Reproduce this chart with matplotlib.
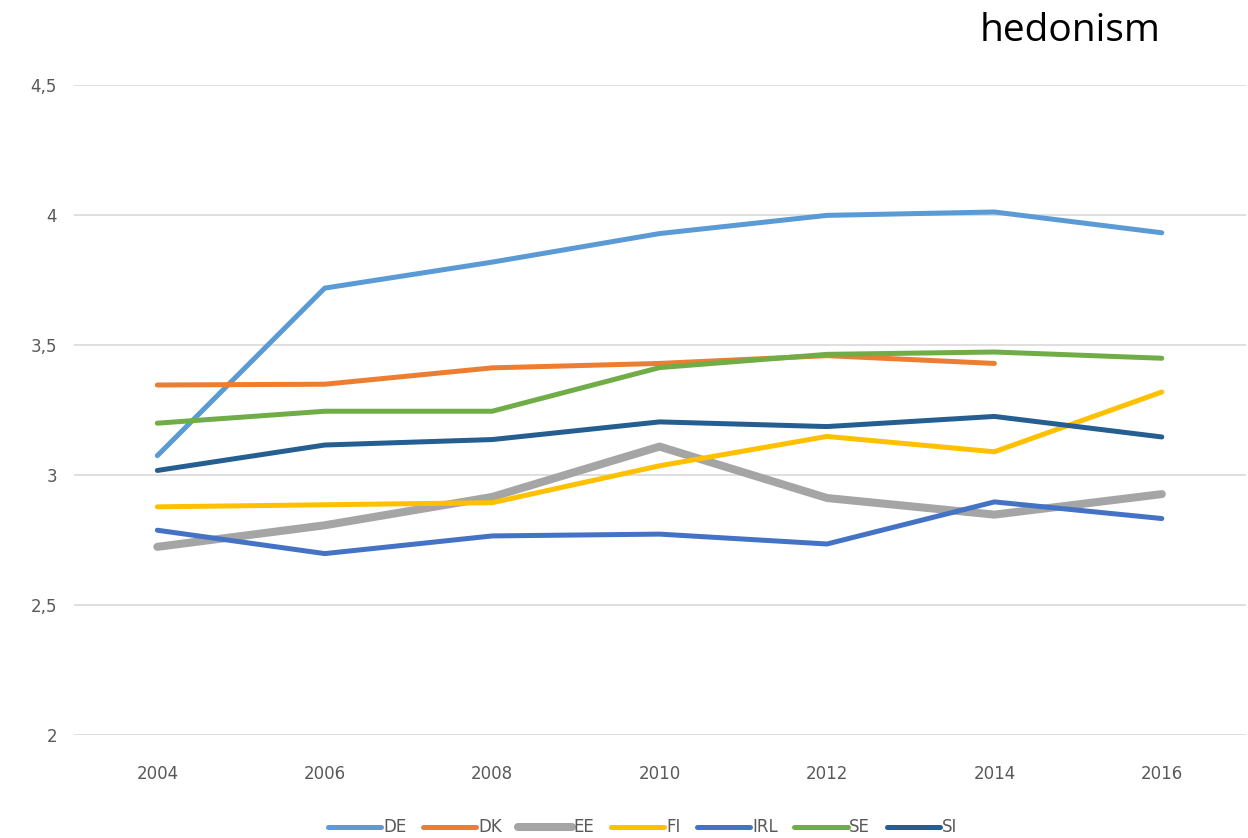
import matplotlib.pyplot as plt

years = ["2004", "2006", "2008", "2010", "2012", "2014", "2016"]

de = [3.075, 3.72, 3.82, 3.93, 4.00, 4.013, 3.933]
dk = [3.347, 3.35, 3.413, 3.43, 3.46, 3.43]
ee = [2.724, 2.807, 2.916, 3.11, 2.912, 2.848, 2.927]
fi = [2.878, 2.886, 2.894, 3.036, 3.149, 3.09, 3.32]
irl = [2.788, 2.698, 2.766, 2.773, 2.735, 2.897, 2.833]
se = [3.2, 3.246, 3.246, 3.414, 3.465, 3.474, 3.45]
si = [3.018, 3.116, 3.137, 3.205, 3.187, 3.226, 3.147]

series = [
    ("DE", de, "#5B9BD5", 3.6),
    ("DK", dk, "#ED7D31", 3.6),
    ("EE", ee, "#A5A5A5", 5.8),
    ("FI", fi, "#FFC000", 3.6),
    ("IRL", irl, "#4472C4", 3.6),
    ("SE", se, "#70AD47", 3.6),
    ("SI", si, "#255E91", 3.6),
]

fig = plt.figure(figsize=(12.48, 8.38), dpi=100)
ax = fig.add_axes([0.059, 0.123, 0.939, 0.775])

for name, vals, color, lw in series:
    ax.plot(range(len(vals)), vals, color=color, lw=lw, label=name,
            solid_capstyle="round", solid_joinstyle="round")

ax.set_xlim(-0.5, len(years) - 0.5)
ax.set_ylim(2, 4.5)
ax.set_xticks(range(len(years)))
ax.set_xticklabels(years)
ax.set_yticks([2, 2.5, 3, 3.5, 4, 4.5])
ax.set_yticklabels(["2", "2,5", "3", "3,5", "4", "4,5"])
ax.yaxis.grid(True, color="#D9D9D9", lw=1.2)
ax.set_axisbelow(True)
for s in ax.spines.values():
    s.set_visible(False)
ax.tick_params(length=0, labelsize=12, labelcolor="#595959")
ax.tick_params(axis="x", pad=22)
ax.tick_params(axis="y", pad=12)

leg = fig.legend(loc="lower center", bbox_to_anchor=(0.515, -0.016), ncol=7,
                 frameon=False, fontsize=12, handlelength=3.2,
                 handletextpad=0.1, columnspacing=1.0)
for t in leg.get_texts():
    t.set_color("#595959")

fig.text(0.93, 0.963, "hedonism", ha="right", va="center", fontsize=28,
         family="Open Sans")

fig.savefig("out.png", dpi=100)
